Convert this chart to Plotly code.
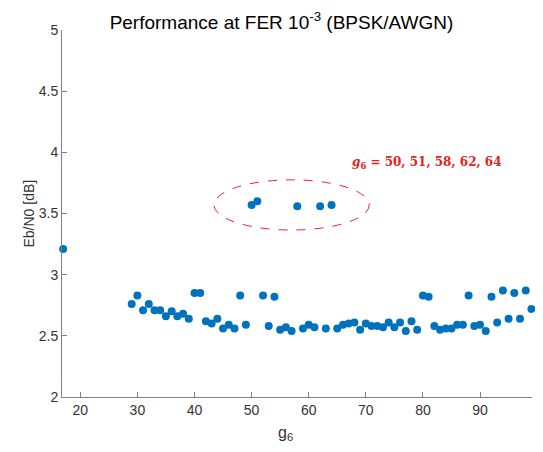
import plotly.graph_objects as go

# g6 values and Eb/N0 at FER 1e-3
g6 = [17, 29, 30, 31, 32, 33, 34, 35, 36, 37, 38, 39, 40, 41, 42, 43, 44, 45, 46, 47,
      48, 49, 50, 51, 52, 53, 54, 55, 56, 57, 58, 59, 60, 61, 62, 63, 64, 65, 66, 67,
      68, 69, 70, 71, 72, 73, 74, 75, 76, 77, 78, 79, 80, 81, 82, 83, 84, 85, 86, 87,
      88, 89, 90, 91, 92, 93, 94, 95, 96, 97, 98, 99]
ebn0 = [3.21, 2.76, 2.83, 2.71, 2.76, 2.71, 2.71, 2.66, 2.70, 2.66, 2.68, 2.64, 2.85, 2.85,
        2.62, 2.60, 2.64, 2.56, 2.59, 2.56, 2.83, 2.59, 3.57, 3.60, 2.83, 2.58, 2.82, 2.55,
        2.57, 2.54, 3.56, 2.56, 2.59, 2.57, 3.56, 2.56, 3.57, 2.56, 2.59, 2.60, 2.61, 2.55,
        2.60, 2.58, 2.58, 2.57, 2.61, 2.57, 2.61, 2.54, 2.62, 2.55, 2.83, 2.82, 2.58, 2.55,
        2.56, 2.56, 2.59, 2.59, 2.83, 2.58, 2.59, 2.54, 2.82, 2.61, 2.87, 2.64, 2.85, 2.64,
        2.87, 2.72]

x_ticks = [20, 30, 40, 50, 60, 70, 80, 90]
y_ticks = [2, 2.5, 3, 3.5, 4, 4.5, 5]
outlier_label = "<b><i>g</i><sub>6</sub> = 50, 51, 58, 62, 64</b>"

# page body has an 8px margin, so figure is placed at (8, 8)
OFF = 8
W, H = 535, 444
ML, MR, MT, MB = 54, 11, 22, 55

fig = go.Figure()
fig.add_trace(go.Scatter(
    x=g6, y=ebn0, mode="markers",
    marker=dict(color="#0072BD", size=8, line=dict(width=0)),
    cliponaxis=False, showlegend=False,
))

# dashed ellipse around outliers
fig.add_shape(type="circle", xref="x", yref="y",
              x0=43.4, x1=70.6, y0=3.365, y1=3.775,
              line=dict(color="#E8282B", width=1, dash="dash"))

fig.add_annotation(x=80.8, y=3.913, xref="x", yref="y", text=outlier_label,
                   showarrow=False, xanchor="center", yanchor="middle",
                   font=dict(family="DejaVu Serif", size=12, color="#E8221E"))

axis_common = dict(showline=True, linecolor="#808080", linewidth=1, ticks="inside",
                   ticklen=5, tickcolor="#808080", showgrid=False, zeroline=False,
                   tickfont=dict(family="Liberation Sans", size=14, color="#333333"),
                   mirror=False)

fig.update_layout(
    width=W, height=H,
    margin=dict(l=ML, r=MR, t=MT, b=MB),
    paper_bgcolor="white", plot_bgcolor="white",
    xaxis=dict(range=[16.8, 99.1], tickvals=x_ticks, **axis_common),
    yaxis=dict(range=[2, 5], tickvals=y_ticks, **axis_common),
    title=dict(text="Performance at FER 10<sup>-3</sup> (BPSK/AWGN)",
               x=(281.5 - OFF) / W, xref="container", xanchor="center",
               y=1 - (22 - OFF) / H, yref="container", yanchor="middle",
               font=dict(family="Liberation Sans", size=19, color="black")),
)

PW = W - ML - MR
PH = H - MT - MB
# axis titles
fig.add_annotation(text="g<sub>6</sub>", xref="paper", yref="paper",
                   x=(285 - OFF - ML) / PW, y=-(433 - OFF - (H - MB)) / PH,
                   showarrow=False, xanchor="center", yanchor="middle",
                   font=dict(family="Liberation Sans", size=16, color="#333333"))
fig.add_annotation(text="Eb/N0 [dB]", xref="paper", yref="paper",
                   x=-(ML - (28 - OFF)) / PW, y=0.5, textangle=-90,
                   showarrow=False, xanchor="center", yanchor="middle",
                   font=dict(family="Liberation Sans", size=14, color="#333333"))

fig.write_html("out.html")
